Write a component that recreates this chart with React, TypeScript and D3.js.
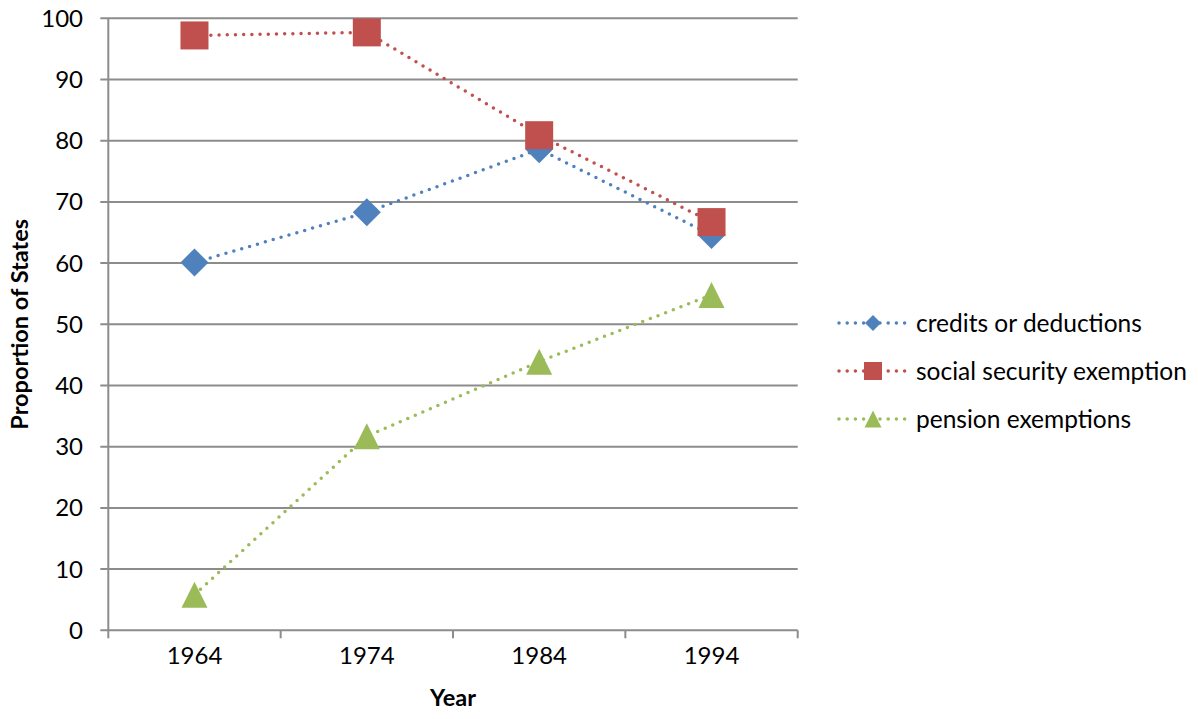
import React from "react";
import * as d3 from "d3";

// Survey years on the category axis
const years = ["1964", "1974", "1984", "1994"];

// Share of states (%) for each type of tax relief
const creditsOrDeductions = [60.1, 68.3, 78.6, 64.6];
const socialSecurityExemption = [97.2, 97.7, 80.9, 66.7];
const pensionExemptions = [5.8, 31.7, 43.9, 54.8];

const seriesNames = ["credits or deductions", "social security exemption", "pension exemptions"];
const seriesColors = ["#4F81BD", "#C0504D", "#9BBB59"];
const seriesShapes = ["diamond", "square", "triangle"];

const yTicks = [0, 10, 20, 30, 40, 50, 60, 70, 80, 90, 100];

const W = 1198;
const H = 719;
const plot = { left: 108.3, right: 797.7, top: 18.3, bottom: 630.3 };
const FONT = "Lato, 'Open Sans', sans-serif";

function Marker({ shape, x, y, size, color }: { shape: string; x: number; y: number; size: number; color: string }) {
  if (shape === "square") {
    return <rect x={x - size / 2} y={y - size / 2} width={size} height={size} fill={color} />;
  }
  if (shape === "diamond") {
    const h = size / 2;
    return <path d={`M${x},${y - h}L${x + h},${y}L${x},${y + h}L${x - h},${y}Z`} fill={color} />;
  }
  const h = size / 2;
  return <path d={`M${x},${y - h}L${x + h},${y + h}L${x - h},${y + h}Z`} fill={color} />;
}

export default function App() {
  const x = d3.scaleBand<string>().domain(years).range([plot.left, plot.right]).padding(0);
  const y = d3.scaleLinear().domain([0, 100]).range([plot.bottom, plot.top]);
  const cx = (yr: string) => (x(yr) as number) + x.bandwidth() / 2;

  const data = [creditsOrDeductions, socialSecurityExemption, pensionExemptions];
  const line = d3
    .line<number>()
    .x((_, i) => cx(years[i]))
    .y((v) => y(v));

  const sizes = [28, 28, 26];
  const legendSizes = [16, 18, 17];
  const legendY = [323, 371, 419];
  const gridColor = "#8C8C8C";

  const tickEdges = d3.range(years.length + 1).map((i) => plot.left + i * x.bandwidth());

  return (
    <svg width={W} height={H} style={{ position: "absolute", left: 0, top: 0, background: "#fff" }}>
      {/* horizontal gridlines and y ticks */}
      {yTicks.map((t) => (
        <g key={t}>
          <line x1={plot.left - 8} x2={plot.right} y1={y(t)} y2={y(t)} stroke={gridColor} strokeWidth={2} />
          <text x={83} y={y(t)} dy="0.35em" textAnchor="end" fontFamily={FONT} fontSize={24} fill="#000">
            {t}
          </text>
        </g>
      ))}
      {/* y axis */}
      <line x1={plot.left} x2={plot.left} y1={plot.top} y2={plot.bottom} stroke={gridColor} strokeWidth={2} />
      {/* category tick marks */}
      {tickEdges.map((tx, i) => (
        <line key={i} x1={tx} x2={tx} y1={plot.bottom} y2={plot.bottom + 8} stroke={gridColor} strokeWidth={2} />
      ))}
      {years.map((yr) => (
        <text key={yr} x={cx(yr)} y={664} textAnchor="middle" fontFamily={FONT} fontSize={24} fill="#000">
          {yr}
        </text>
      ))}
      {/* axis titles */}
      <text x={(plot.left + plot.right) / 2} y={706} textAnchor="middle" fontFamily={FONT} fontSize={23.5} fontWeight="bold">
        Year
      </text>
      <text
        transform={`translate(28,${(plot.top + plot.bottom) / 2}) rotate(-90)`}
        textAnchor="middle"
        fontFamily={FONT}
        fontSize={23.5}
        fontWeight="bold"
      >
        Proportion of States
      </text>
      {/* series */}
      {data.map((vals, s) => (
        <g key={s}>
          <path
            d={line(vals) as string}
            fill="none"
            stroke={seriesColors[s]}
            strokeWidth={3.5}
            strokeLinecap="round"
            strokeDasharray="0 8.2"
          />
          {vals.map((v, i) => (
            <Marker key={i} shape={seriesShapes[s]} x={cx(years[i])} y={y(v)} size={sizes[s]} color={seriesColors[s]} />
          ))}
        </g>
      ))}
      {/* legend */}
      {seriesNames.map((name, s) => (
        <g key={name}>
          <line
            x1={839}
            x2={907}
            y1={legendY[s]}
            y2={legendY[s]}
            stroke={seriesColors[s]}
            strokeWidth={3.5}
            strokeLinecap="round"
            strokeDasharray="0 8.2"
          />
          <Marker shape={seriesShapes[s]} x={873} y={legendY[s]} size={legendSizes[s]} color={seriesColors[s]} />
          <text x={916} y={legendY[s]} dy="0.35em" fontFamily={FONT} fontSize={24.5} fill="#000">
            {name}
          </text>
        </g>
      ))}
    </svg>
  );
}
